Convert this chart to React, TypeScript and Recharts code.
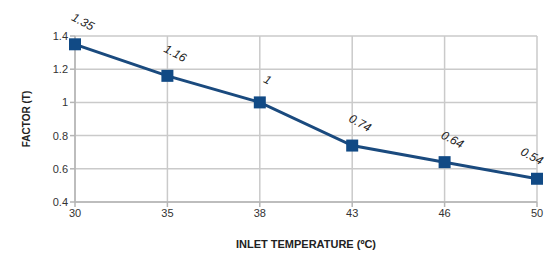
import { LineChart, Line, XAxis, YAxis, CartesianGrid, LabelList } from "recharts";

const temps = ["30", "35", "38", "43", "46", "50"];
const factors = [1.35, 1.16, 1, 0.74, 0.64, 0.54];
const yTicks = [0.4, 0.6, 0.8, 1, 1.2, 1.4];

const data = temps.map((t, i) => ({ temp: t, factor: factors[i] }));

const FONT = "'Liberation Sans Narrow', 'Liberation Sans', Arial, sans-serif";

function SquareDot(props: any) {
  const { cx, cy } = props;
  if (cx == null || cy == null) return null;
  return <rect x={cx - 6} y={cy - 6} width={12} height={12} fill="#114a85" />;
}

function PointLabel(props: any) {
  const { x, y, value } = props;
  // keep the last label inside the picture
  const lx = Math.min(x + 6, 530);
  const ly = y - 19;
  return (
    <text
      x={lx}
      y={ly}
      textAnchor="middle"
      fontSize={12}
      fontStyle="italic"
      fontFamily={FONT}
      fill="#222"
      transform={`rotate(28 ${lx} ${ly})`}
    >
      {String(value)}
    </text>
  );
}

export default function App() {
  return (
    <div style={{ position: "fixed", left: 0, top: 0, width: 544, height: 256, background: "#fff" }}>
      <LineChart width={544} height={256} data={data} margin={{ top: 36, right: 7, bottom: 24, left: 0 }}>
        <CartesianGrid stroke="#cacaca" strokeWidth={1.5} />
        <XAxis
          dataKey="temp"
          stroke="#b5b5b5"
          strokeWidth={1.5}
          tickSize={5}
          height={30}
          tick={{ fontSize: 11, fill: "#333", fontFamily: FONT }}
          label={{
            value: "INLET TEMPERATURE (ºC)",
            position: "insideBottom",
            offset: -16,
            fontSize: 11,
            fontWeight: "bold",
            fill: "#222",
            fontFamily: FONT,
          }}
        />
        <YAxis
          type="number"
          domain={[0.4, 1.4]}
          ticks={yTicks}
          width={75}
          stroke="#b5b5b5"
          strokeWidth={1.5}
          tickSize={5}
          tick={{ fontSize: 11, fill: "#333", fontFamily: FONT }}
          label={{
            value: "FACTOR (T)",
            angle: -90,
            position: "insideLeft",
            offset: 26,
            fontSize: 10,
            fontWeight: "bold",
            fill: "#222",
            fontFamily: FONT,
            style: { textAnchor: "middle" },
          }}
        />
        <Line
          type="linear"
          dataKey="factor"
          stroke="#1a4a7e"
          strokeWidth={3}
          dot={<SquareDot />}
          activeDot={false}
          isAnimationActive={false}
        >
          <LabelList dataKey="factor" content={<PointLabel />} />
        </Line>
      </LineChart>
    </div>
  );
}
